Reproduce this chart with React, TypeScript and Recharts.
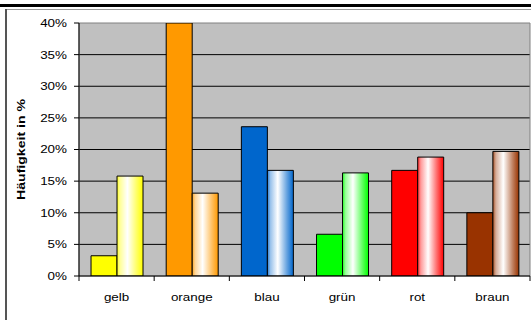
import React from 'react';
import { BarChart, Bar, XAxis, YAxis, CartesianGrid, Cell, ReferenceArea } from 'recharts';

const categories = ['gelb', 'orange', 'blau', 'grün', 'rot', 'braun'];
const solidValues = [3.2, 40, 23.6, 6.6, 16.7, 10.0];
const gradientValues = [15.8, 13.1, 16.7, 16.3, 18.8, 19.7];
const colors = ['#FFFF00', '#FF9900', '#0066CC', '#00FF00', '#FF0000', '#993300'];
const yTicks = [0, 5, 10, 15, 20, 25, 30, 35, 40];
const yLabel = 'Häufigkeit in %';

const data = categories.map((c, i) => ({ name: c, a: solidValues[i], b: gradientValues[i] }));

function mix(hex: string, t: number): string {
  const n = parseInt(hex.slice(1), 16);
  const r = (n >> 16) & 255, g = (n >> 8) & 255, b = n & 255;
  const m = (v: number) => Math.round(v + (255 - v) * t);
  return `rgb(${m(r)},${m(g)},${m(b)})`;
}

const FONT = '"Liberation Sans", Arial, sans-serif';
const SX = 1.22;

const XTick = (props: any) => {
  const { x, y, payload, index } = props;
  const off = payload.offset || 0;
  const axisY = y - 6;
  return (
    <g>
      <line x1={x - off} x2={x - off} y1={axisY} y2={axisY + 5} stroke="#000" />
      {index === categories.length - 1 && (
        <line x1={x + off} x2={x + off} y1={axisY} y2={axisY + 5} stroke="#000" />
      )}
      <text
        x={0}
        y={0}
        transform={`translate(${x}, ${y + 19}) scale(${SX}, 1)`}
        textAnchor="middle"
        fontSize={11}
        fontFamily={FONT}
        fill="#000"
      >
        {payload.value}
      </text>
    </g>
  );
};

const YTick = (props: any) => {
  const { x, y, payload } = props;
  return (
    <text
      x={0}
      y={0}
      dy="0.355em"
      transform={`translate(${x}, ${y}) scale(${SX}, 1)`}
      textAnchor="end"
      fontSize={11}
      fontFamily={FONT}
      fill="#000"
    >
      {`${payload.value}%`}
    </text>
  );
};

const YLabel = (props: any) => {
  const vb = props.viewBox || {};
  const cx = (vb.x || 0) + 22;
  const cy = (vb.y || 0) + (vb.height || 0) / 2;
  return (
    <text
      x={0}
      y={0}
      transform={`translate(${cx}, ${cy}) rotate(-90) scale(1.28, 1)`}
      textAnchor="middle"
      dominantBaseline="central"
      fontSize={11}
      fontWeight="bold"
      fontFamily={FONT}
      fill="#000"
    >
      {yLabel}
    </text>
  );
};

export default function App() {
  return (
    <div style={{ position: 'absolute', left: 0, top: 0, width: 531, height: 320, background: '#fff', overflow: 'hidden' }}>
      <div style={{ position: 'absolute', left: 0, top: 4, width: 531, height: 3, background: '#000' }} />
      <div style={{ position: 'absolute', left: 5, top: 9, width: 526, height: 1, background: '#999' }} />
      <div style={{ position: 'absolute', left: 5, top: 9, width: 2, height: 311, background: '#555' }} />
      <div style={{ position: 'absolute', left: 0, top: 0 }}>
        <BarChart
          width={531}
          height={320}
          data={data}
          margin={{ top: 23, right: 1, bottom: 14, left: 0 }}
          barCategoryGap="16%"
          barGap={0}
          style={{ fontFamily: FONT }}
        >
          <defs>
            {colors.map((c, i) => (
              <linearGradient key={i} id={`grad-${i}`} x1="0" y1="0" x2="1" y2="0">
                <stop offset="0%" stopColor={mix(c, 0.15)} />
                <stop offset="12%" stopColor={mix(c, 0.6)} />
                <stop offset="40%" stopColor="#ffffff" />
                <stop offset="75%" stopColor={mix(c, 0.4)} />
                <stop offset="100%" stopColor={c} />
              </linearGradient>
            ))}
          </defs>
          <CartesianGrid
            vertical={false}
            fill="#C0C0C0"
            fillOpacity={1}
            stroke="#000"
            strokeWidth={1}
            horizontalValues={[5, 10, 15, 20, 25, 30, 35]}
          />
          <ReferenceArea y1={0} y2={40} fill="none" stroke="#808080" strokeWidth={1} ifOverflow="visible" />
          <XAxis
            dataKey="name"
            height={30}
            tickLine={false}
            tickSize={6}
            tickMargin={0}
            axisLine={{ stroke: '#000' }}
            tick={<XTick />}
            interval={0}
          />
          <YAxis
            width={79}
            domain={[0, 40]}
            ticks={yTicks}
            tick={<YTick />}
            tickSize={5}
            tickMargin={7}
            tickLine={{ stroke: '#000' }}
            axisLine={{ stroke: '#000' }}
            label={<YLabel />}
            allowDataOverflow
          />
          <Bar dataKey="a" isAnimationActive={false} stroke="#000" strokeWidth={1}>
            {data.map((_, i) => (
              <Cell key={i} fill={colors[i]} />
            ))}
          </Bar>
          <Bar dataKey="b" isAnimationActive={false} stroke="#000" strokeWidth={1}>
            {data.map((_, i) => (
              <Cell key={i} fill={`url(#grad-${i})`} />
            ))}
          </Bar>
        </BarChart>
      </div>
    </div>
  );
}
